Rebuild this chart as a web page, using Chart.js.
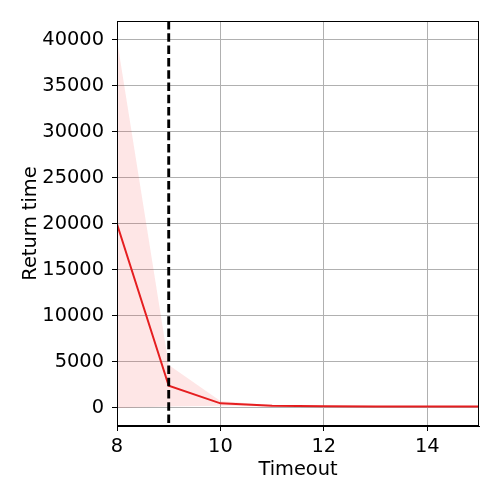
<!DOCTYPE html>
<html>
<head>
<meta charset="utf-8">
<script src="https://cdn.jsdelivr.net/npm/chart.js@4"></script>
<style>
  html, body { margin: 0; padding: 0; background: #fff; }
  #wrap { width: 500px; height: 500px; }
</style>
</head>
<body>
<div id="wrap"><canvas id="chart" width="500" height="500"></canvas></div>
<script>
// values
const timeouts = [8, 9, 10, 11, 12, 13, 14, 15];
const meanReturn = [20000, 2420, 500, 230, 180, 170, 170, 170];
const upperBand = [40000, 4670, 760, 290, 220, 210, 210, 210];
const lowerBand = [0, 170, 240, 170, 140, 130, 130, 130];
const xTicks = [8, 10, 12, 14];
const yTicks = [0, 5000, 10000, 15000, 20000, 25000, 30000, 35000, 40000];
const thresholdX = 9;

const font = { family: "DejaVu Sans", size: 19.4 };
const toPoints = vals => vals.map((v, i) => ({ x: timeouts[i], y: v }));

// frame round the plot area + dashed threshold line
const framePlugin = {
  id: "frame",
  afterDatasetsDraw(chart) {
    const { ctx, chartArea: a, scales } = chart;
    const px = scales.x.getPixelForValue(thresholdX);
    ctx.save();
    ctx.strokeStyle = "#000";
    ctx.lineWidth = 2.9;
    ctx.setLineDash([8.5, 3.8]);
    ctx.beginPath();
    ctx.moveTo(px, a.top);
    ctx.lineTo(px, a.bottom);
    ctx.stroke();
    ctx.setLineDash([]);
    ctx.lineWidth = 1;
    ctx.strokeRect(a.left + 0.5, a.top + 0.5, a.right - a.left - 1, a.bottom - a.top - 1);
    ctx.restore();
  }
};

new Chart(document.getElementById("chart"), {
  type: "line",
  data: {
    datasets: [
      {
        label: "lower",
        data: toPoints(lowerBand),
        borderWidth: 0,
        pointRadius: 0,
        fill: false
      },
      {
        label: "upper",
        data: toPoints(upperBand),
        borderWidth: 0,
        pointRadius: 0,
        backgroundColor: "rgba(250, 60, 60, 0.13)",
        fill: "-1"
      },
      {
        label: "mean",
        data: toPoints(meanReturn),
        borderColor: "#e31a1c",
        borderWidth: 2,
        pointRadius: 0,
        fill: false
      }
    ]
  },
  options: {
    responsive: false,
    animation: false,
    layout: { padding: { top: 21, right: 21, left: 0, bottom: 0 } },
    plugins: { legend: { display: false }, tooltip: { enabled: false } },
    scales: {
      x: {
        type: "linear",
        min: 8,
        max: 15,
        afterBuildTicks: axis => { axis.ticks = xTicks.map(v => ({ value: v })); },
        afterFit: axis => { axis.height = 74; },
        grid: { color: "#b0b0b0", lineWidth: 1, tickColor: "#000", tickLength: 5 },
        border: { color: "#000" },
        ticks: { color: "#000", font, padding: 4, maxRotation: 0, callback: v => String(v) },
        title: { display: true, text: "Timeout", color: "#000", font, padding: { top: 0, bottom: 18 } }
      },
      y: {
        type: "linear",
        min: -1960,
        max: 42065,
        afterBuildTicks: axis => { axis.ticks = yTicks.map(v => ({ value: v })); },
        afterFit: axis => { axis.width = 117; },
        grid: { color: "#b0b0b0", lineWidth: 1, tickColor: "#000", tickLength: 5 },
        border: { color: "#000" },
        ticks: { color: "#000", font, padding: 8, callback: v => String(v) },
        title: { display: true, text: "Return time", color: "#000", font, padding: { top: 19, bottom: 0 } }
      }
    }
  },
  plugins: [framePlugin]
});
</script>
</body>
</html>
